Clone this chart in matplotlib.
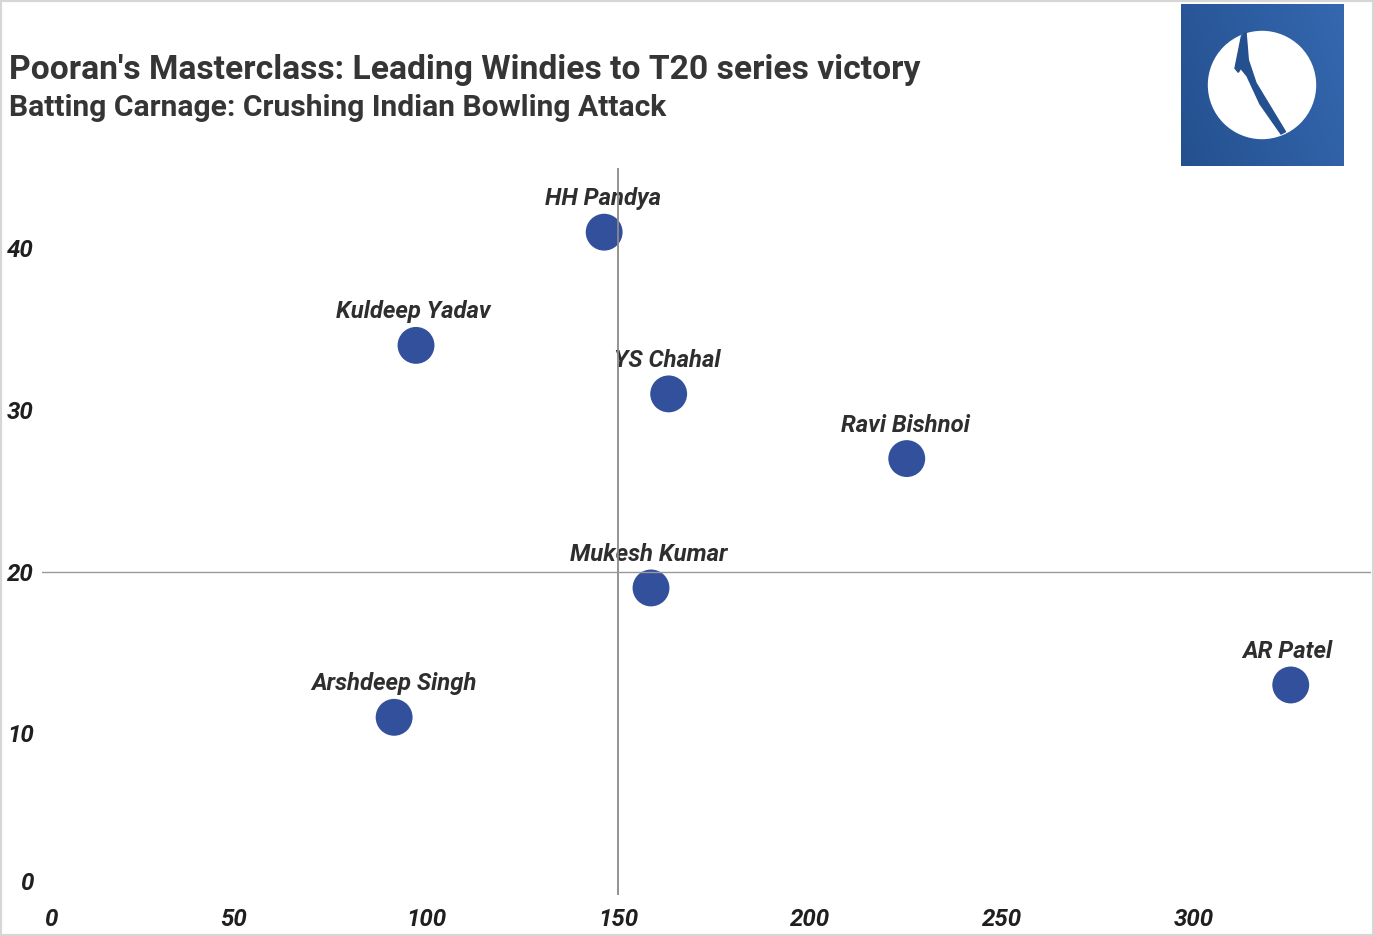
"""Pooran vs Indian bowlers scatter, with the logo drawn in a small inset."""
import numpy as np
import matplotlib
matplotlib.use("Agg")
import matplotlib.pyplot as plt
from matplotlib.colors import LinearSegmentedColormap
from matplotlib.patches import Circle, Polygon, Rectangle
from matplotlib.transforms import ScaledTranslation

plt.rcParams['font.family'] = ['Roboto', 'DejaVu Sans']

players = ["HH Pandya", "Kuldeep Yadav", "YS Chahal", "Ravi Bishnoi",
           "Mukesh Kumar", "AR Patel", "Arshdeep Singh"]
runs = [146.4, 97.4, 163.2, 225.2, 158.6, 325.2, 91.7]
strike = [41, 34, 31, 27, 19, 13, 11]
x_ticks = [0, 50, 100, 150, 200, 250, 300]
y_ticks = [0, 10, 20, 30, 40]

W, H = 1374, 936
fig = plt.figure(figsize=(W / 100, H / 100), dpi=100, facecolor='white')


def px_axes(left, top, right, bottom):
    return fig.add_axes([left / W, 1 - bottom / H, (right - left) / W, (bottom - top) / H])


# outer frame of the picture
fig.add_artist(Rectangle((0, 0), 1, 1, transform=fig.transFigure, fill=False,
                         edgecolor='#d6d6d6', linewidth=3))

ax = px_axes(42, 167.5, 1371, 895.2)
ax.set_xlim(0, 346.1)
ax.set_ylim(0, 45)
for s in ax.spines.values():
    s.set_visible(False)
ax.patch.set_visible(False)

ax.axvline(150, color='#8a8a8a', lw=1.3, zorder=4)
ax.axhline(20, color='#999999', lw=1.0, zorder=4)
ax.scatter(runs, strike, s=705, c='#32509c', edgecolors='none', zorder=3, clip_on=False)

label_dx = {"AR Patel": -3, "HH Pandya": -1, "Kuldeep Yadav": -2.5, "YS Chahal": -1,
            "Ravi Bishnoi": -1.5, "Mukesh Kumar": -2}
for name, xv, yv in zip(players, runs, strike):
    ax.annotate(name, (xv, yv), xytext=(label_dx.get(name, 0) * 0.72, 24.1),
                textcoords='offset points', ha='center', va='center',
                fontsize=17.2, fontweight='bold', fontstyle='italic', color='#2e2e2e', zorder=2)

ax.set_xticks(x_ticks)
ax.set_yticks(y_ticks)
ax.tick_params(length=0, pad=9.4, labelsize=17.4, labelcolor='#1f1f1f')
ax.tick_params(axis='y', pad=6)
for lab in ax.get_xticklabels() + ax.get_yticklabels():
    lab.set_fontweight('bold')
    lab.set_fontstyle('italic')
# the zero labels sit off their ticks
zx = ax.get_xticklabels()[0]
zx.set_transform(zx.get_transform() + ScaledTranslation(9 / 100, 0, fig.dpi_scale_trans))
zy = ax.get_yticklabels()[0]
zy.set_transform(zy.get_transform() + ScaledTranslation(0, 14 / 100, fig.dpi_scale_trans))

fig.text(9 / W, 1 - 70 / H, "Pooran's Masterclass: Leading Windies to T20 series victory",
         fontsize=24.25, fontweight='bold', color='#353535', va='center', ha='left')
fig.text(9 / W, 1 - 108 / H, "Batting Carnage: Crushing Indian Bowling Attack",
         fontsize=21.6, fontweight='bold', color='#353535', va='center', ha='left')

# logo
logo = px_axes(1181, 4, 1344, 166)
logo.set_xlim(1181, 1344)
logo.set_ylim(166, 4)
logo.axis('off')
cmap = LinearSegmentedColormap.from_list('logo', ['#24508f', '#3568b0'])
gx, gy = np.meshgrid(np.linspace(0, 1, 64), np.linspace(0, 1, 64))
logo.imshow(0.75 * gx + 0.25 * (1 - gy), extent=(1181, 1344, 166, 4),
            cmap=cmap, aspect='auto', zorder=0)
logo.add_patch(Circle((1262, 85), 53.5, color='white', zorder=1))
logo.add_patch(Polygon([(1241.5, 36), (1246, 32), (1248.3, 60), (1256, 83), (1285.5, 131.7),
                        (1281, 134), (1260, 104), (1247, 76), (1240.7, 68.3),
                        (1238.3, 72.3), (1235, 68.3)],
                       closed=True, color='#24508f', zorder=2))

fig.savefig("out.png", dpi=100)
